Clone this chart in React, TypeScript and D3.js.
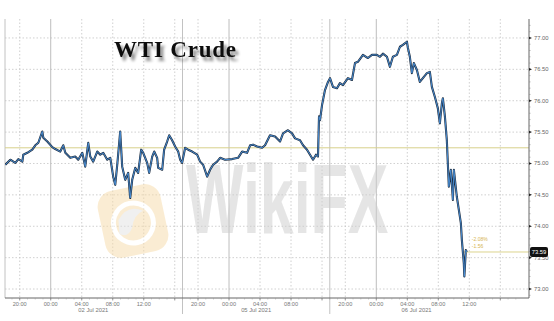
import React from "react";
import * as d3 from "d3";

// session-hour index (trading hours counted from 20:00 01 Jul 2021, breaks removed)
const sessionHours = [
  -1.86, -1.21, -0.57, -0.18, 0.34, 0.46, 0.98, 1.62, 2.01, 2.4, 2.91, 3.04, 3.56, 4.2, 4.59, 5.23, 5.62, 5.88,
  6.52, 7.16, 7.55, 8.07, 8.45, 8.84, 9.1, 9.48, 10.0, 10.39, 10.77, 11.29, 11.68, 12.06, 12.32, 12.58, 12.96,
  13.22, 13.61, 13.99, 14.25, 14.51, 14.9, 15.28, 15.67, 15.93, 16.44, 16.7, 17.09, 17.35, 17.73, 17.86, 18.38,
  18.63, 19.02, 19.28, 19.66, 20.05, 20.44, 20.7, 20.95,
  21.34, 21.73, 22.24, 22.89, 23.27, 23.66, 24.18, 24.56, 24.95, 25.46, 25.85, 26.49, 27.4, 28.17, 28.69, 29.33,
  29.72, 30.1, 30.62, 31.26, 31.65, 32.29, 32.94, 33.58, 33.97, 34.61, 35.13, 35.52, 36.16, 36.55, 37.06, 37.45,
  37.84, 38.22, 38.48, 38.61, 38.74, 39.0, 39.38, 39.77, 40.03,
  40.41, 40.93, 41.31, 41.7, 42.34, 42.86, 43.25, 43.63, 44.28, 44.92, 45.44, 46.08, 46.47, 46.86, 47.37, 47.76,
  48.14, 48.66, 49.05, 49.43, 49.95, 50.08, 50.33, 50.59, 50.85, 51.24, 51.62, 52.01, 52.53, 52.91, 53.17, 53.56,
  53.94, 54.2, 54.46, 54.59, 54.85, 55.1, 55.23, 55.36, 55.62, 55.88, 56.01, 56.39, 56.65, 56.91, 57.04, 57.29,
  57.36, 57.55, 57.68,
];
const prices = [
  74.98, 75.06, 75.01, 75.07, 75.03, 75.14, 75.17, 75.22, 75.29, 75.33, 75.51, 75.41, 75.35, 75.26, 75.23, 75.19, 75.29, 75.17,
  75.09, 75.11, 75.06, 75.17, 74.95, 75.33, 75.11, 75.03, 75.19, 75.14, 75.17, 75.06, 75.09, 74.79, 74.66, 74.98, 75.51,
  74.95, 74.74, 74.85, 74.45, 74.74, 74.93, 74.85, 75.22, 75.17, 75.01, 74.85, 75.11, 75.19, 75.09, 74.93, 74.9,
  75.22, 75.35, 75.45, 75.37, 75.27, 75.19, 75.06, 75.01,
  75.25, 75.22, 75.19, 75.14, 75.03, 74.98, 74.79, 74.9, 74.98, 75.03, 75.09, 75.06, 75.07, 75.09, 75.19, 75.17,
  75.29, 75.3, 75.27, 75.25, 75.29, 75.45, 75.43, 75.35, 75.48, 75.53, 75.48, 75.4, 75.37, 75.29, 75.22, 75.14,
  75.06, 75.14, 75.11, 75.75, 75.69, 75.93, 76.17, 76.3, 76.36,
  76.22, 76.2, 76.28, 76.25, 76.36, 76.33, 76.6, 76.62, 76.73, 76.68, 76.73, 76.73, 76.7, 76.75, 76.7, 76.54,
  76.7, 76.73, 76.86, 76.89, 76.94, 76.84, 76.7, 76.44, 76.6, 76.49, 76.3, 76.36, 76.44, 76.46, 76.22, 76.06,
  75.88, 75.64, 75.96, 76.04, 75.75, 75.37, 75.0, 74.63, 74.9, 74.42, 74.9, 74.47, 74.26, 74.05, 73.78, 73.41,
  73.2, 73.62, 73.59,
];

const xTickHours = [0, 4, 8, 12, 16, 20, 23, 27, 31, 35, 39, 42, 46, 50, 54, 58, 62];
const xTickLabels = ["20:00", "00:00", "04:00", "08:00", "12:00", "", "20:00", "00:00", "04:00", "08:00", "", "20:00", "00:00", "04:00", "08:00", "12:00", ""];
const midnightHours = [4, 27, 46];
const sessionBreaks = [-1.9, 21, 40];
const dateLabels = ["02 Jul 2021", "05 Jul 2021", "06 Jul 2021"];
const dateLabelHours = [9.5, 30.5, 51.2];
const yTicks = [73, 73.5, 74, 74.5, 75, 75.5, 76, 76.5, 77];
const refLevel = 75.25;
const lastPrice = 73.59;
const changeLabels = ["-2.08%", "-1.56"];

const W = 554, H = 321;
const L = 5, R = 529, T = 19, B = 298;

export default function App() {
  const x = d3.scaleLinear().domain([-1.9, 65.7]).range([L, R]);
  const y = d3.scaleLinear().domain([72.857, 77.302]).range([B, T]);
  const pts = sessionHours.map((h, i) => [h, prices[i]] as [number, number]);
  const line = d3.line<[number, number]>().x((d) => x(d[0])).y((d) => y(d[1]));
  const path = line(pts) || "";
  const minorY = d3.range(72.9, 77.3, 0.1);
  const minorX = d3.range(-1, 65, 1);
  const lastT = sessionHours[sessionHours.length - 1];
  const font = "'Liberation Sans', Arial, sans-serif";

  return (
    <svg width={W} height={H} style={{ position: "absolute", left: 0, top: 0, background: "#fff" }} fontFamily={font}>
      <defs>
        <filter id="tshadow" x="-20%" y="-40%" width="150%" height="200%">
          <feGaussianBlur in="SourceAlpha" stdDeviation="1.8" />
          <feOffset dx="3" dy="4" result="o" />
          <feComponentTransfer><feFuncA type="linear" slope="0.45" /></feComponentTransfer>
          <feMerge><feMergeNode /><feMergeNode in="SourceGraphic" /></feMerge>
        </filter>
        <clipPath id="plot"><rect x={L} y={T} width={R - L} height={B - T} /></clipPath>
      </defs>
      <rect width={W} height={H} fill="#fff" />
      {/* horizontal grid */}
      {yTicks.map((v) => (
        <line key={"hg" + v} x1={L} x2={R} y1={y(v)} y2={y(v)} stroke="#c4c4c4" strokeWidth={0.8} strokeDasharray="1.5,2" />
      ))}
      {/* vertical grid */}
      {xTickHours.filter((h) => !midnightHours.includes(h)).map((h) => (
        <line key={"vg" + h} x1={x(h)} x2={x(h)} y1={T} y2={B} stroke="#c4c4c4" strokeWidth={0.8} strokeDasharray="1.5,2" />
      ))}
      {midnightHours.map((h) => (
        <line key={"mg" + h} x1={x(h)} x2={x(h)} y1={T} y2={B} stroke="#bdbdbd" strokeWidth={1} />
      ))}
      {sessionBreaks.map((h) => (
        <line key={"sb" + h} x1={x(h)} x2={x(h)} y1={T} y2={h < 0 ? B : 314} stroke="#c2c2c2" strokeWidth={1} />
      ))}

      {/* watermark */}
      <g opacity={0.5}>
        <g transform="translate(133,221) rotate(-12)">
          <rect x={-32} y={-34} width={64} height={68} rx={16} fill="#f7dba8" />
          <circle cx={0} cy={2} r={20} fill="none" stroke="#fff" strokeWidth={5} />
          <path d="M-14,-4 Q-2,-18 12,-8 Q2,-6 -2,6 Q-8,16 -16,10 Z" fill="#e2e2e2" />
        </g>
        <g transform="translate(186,233) scale(0.621,1)">
          <text x={0} y={0} fontSize={98} fontWeight={700} fill="#cdcdcd" fontFamily="'Liberation Sans', Arial, sans-serif">WikiFX</text>
        </g>
      </g>

      {/* reference lines */}
      <line x1={L} x2={R} y1={y(refLevel)} y2={y(refLevel)} stroke="#d8d08a" strokeWidth={1} />
      <line x1={x(lastT) - 4} x2={R} y1={y(lastPrice)} y2={y(lastPrice)} stroke="#dcd48e" strokeWidth={1} />
      <text x={x(lastT) + 5} y={y(lastPrice) - 11} fontSize={5} fill="#d6b451">{changeLabels[0]}</text>
      <text x={x(lastT) + 5} y={y(lastPrice) - 3.5} fontSize={5} fill="#d6b451">{changeLabels[1]}</text>

      {/* price line */}
      <g clipPath="url(#plot)">
        <path d={path} fill="none" stroke="#1e2c3e" strokeWidth={2.1} strokeLinejoin="round" />
        <path d={path} fill="none" stroke="#4b93dc" strokeWidth={0.9} strokeLinejoin="round" />
      </g>

      {/* title */}
      <text x={114} y={57} fontSize={23} fontWeight={700} fontFamily="'Liberation Serif', 'Times New Roman', serif" fill="#111" letterSpacing={0.8} filter="url(#tshadow)">WTI Crude</text>

      {/* right axis */}
      <line x1={R} x2={R} y1={T} y2={B} stroke="#666" strokeWidth={1} />
      {minorY.map((v, i) => (
        <line key={"my" + i} x1={R} x2={R + 1.5} y1={y(v)} y2={y(v)} stroke="#888" strokeWidth={0.6} />
      ))}
      {yTicks.map((v) => (
        <g key={"yt" + v}>
          <path d={`M${R},${y(v) - 1.3} L${R + 3},${y(v)} L${R},${y(v) + 1.3} Z`} fill="#222" />
          <text x={R + 5} y={y(v) + 2} fontSize={5.8} fill="#666">{v.toFixed(2)}</text>
        </g>
      ))}
      <rect x={R + 1} y={y(lastPrice) - 5} width={18} height={10} rx={2} fill="#111" />
      <text x={R + 10} y={y(lastPrice) + 2} fontSize={5.8} fill="#fff" textAnchor="middle">{lastPrice.toFixed(2)}</text>

      {/* bottom axis */}
      <line x1={L} x2={R} y1={B} y2={B} stroke="#666" strokeWidth={1} />
      {minorX.map((h) => (
        <line key={"mx" + h} x1={x(h)} x2={x(h)} y1={B} y2={B + 1.5} stroke="#999" strokeWidth={0.5} />
      ))}
      {xTickHours.map((h, i) => (
        <g key={"xt" + h}>
          <line x1={x(h)} x2={x(h)} y1={B} y2={B + 2.5} stroke="#777" strokeWidth={0.7} />
          {xTickLabels[i] && (
            <text x={x(h)} y={B + 7.5} fontSize={5.6} fill="#777" textAnchor="middle">{xTickLabels[i]}</text>
          )}
        </g>
      ))}
      {dateLabels.map((d, i) => (
        <text key={d} x={x(dateLabelHours[i])} y={B + 14} fontSize={5.8} fill="#777" textAnchor="middle">{d}</text>
      ))}
    </svg>
  );
}
